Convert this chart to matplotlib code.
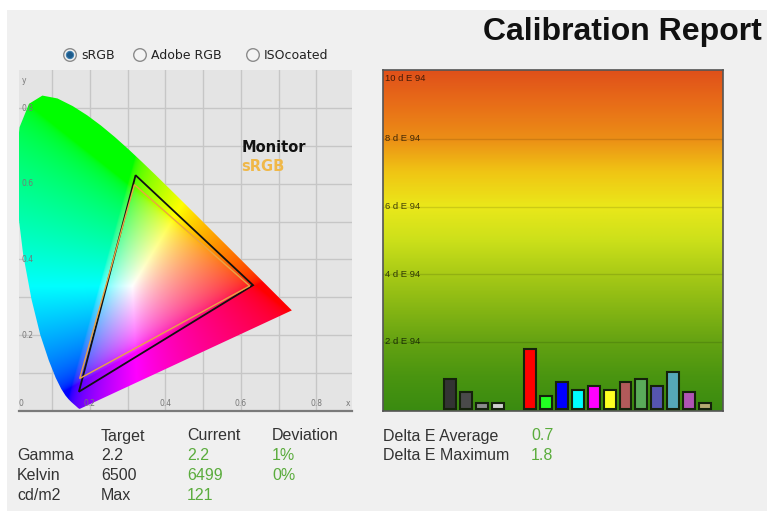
import numpy as np
import matplotlib
matplotlib.use("Agg")
import matplotlib.pyplot as plt
from matplotlib.patches import Polygon, Rectangle, Circle
from matplotlib.colors import LinearSegmentedColormap
import matplotlib.transforms as mtransforms

# ---------------- data ----------------
# CIE 1931 spectral locus (380-700 nm, 5 nm steps)
locus_x = [0.1741, 0.1740, 0.1738, 0.1736, 0.1733, 0.1730, 0.1726, 0.1721, 0.1714, 0.1703,
           0.1689, 0.1669, 0.1644, 0.1611, 0.1566, 0.1510, 0.1440, 0.1355, 0.1241, 0.1096,
           0.0913, 0.0687, 0.0454, 0.0235, 0.0082, 0.0039, 0.0139, 0.0389, 0.0743, 0.1142,
           0.1547, 0.1929, 0.2296, 0.2658, 0.3016, 0.3373, 0.3731, 0.4087, 0.4441, 0.4788,
           0.5125, 0.5448, 0.5752, 0.6029, 0.6270, 0.6482, 0.6658, 0.6801, 0.6915, 0.7006,
           0.7079, 0.7140, 0.7190, 0.7230, 0.7260, 0.7283, 0.7300, 0.7311, 0.7320, 0.7327,
           0.7334, 0.7340, 0.7344, 0.7346, 0.7347]
locus_y = [0.0050, 0.0050, 0.0049, 0.0049, 0.0048, 0.0048, 0.0048, 0.0048, 0.0051, 0.0058,
           0.0069, 0.0086, 0.0109, 0.0138, 0.0177, 0.0227, 0.0297, 0.0399, 0.0578, 0.0868,
           0.1327, 0.2007, 0.2950, 0.4127, 0.5384, 0.6548, 0.7502, 0.8120, 0.8338, 0.8262,
           0.8059, 0.7816, 0.7543, 0.7243, 0.6923, 0.6589, 0.6245, 0.5896, 0.5547, 0.5202,
           0.4866, 0.4544, 0.4242, 0.3965, 0.3725, 0.3514, 0.3340, 0.3197, 0.3083, 0.2993,
           0.2920, 0.2859, 0.2809, 0.2770, 0.2740, 0.2717, 0.2700, 0.2689, 0.2680, 0.2673,
           0.2666, 0.2660, 0.2656, 0.2654, 0.2653]

monitor_x = [0.321, 0.632, 0.171]
monitor_y = [0.623, 0.332, 0.050]
srgb_x = [0.318, 0.623, 0.173]
srgb_y = [0.598, 0.330, 0.085]

cie_xticks = [0.2, 0.4, 0.6, 0.8]
cie_xlabels = ["0.2", "0.4", "0.6", "0.8"]
cie_yticks = [0.2, 0.4, 0.6, 0.8]
cie_ylabels = ["0.2", "0.4", "0.6", "0.8"]

patch_values = [0.90, 0.51, 0.20, 0.20, 0.0, 1.78, 0.38, 0.82, 0.58, 0.70,
                0.58, 0.82, 0.90, 0.70, 1.10, 0.51, 0.20]
patch_colors = ["#333333", "#4a4a4a", "#8c8c8c", "#cfcfcf", "#ffffff", "#ff0000",
                "#22ff22", "#0000ff", "#00ffff", "#ff00ff", "#ffff22", "#b25a5a",
                "#5aaa5a", "#5555b0", "#55a8b8", "#b055b5", "#b5aa72"]
de_ticks = [2, 4, 6, 8, 10]
de_labels = ["2 d E 94", "4 d E 94", "6 d E 94", "8 d E 94", "10 d E 94"]

header = ["Target", "Current", "Deviation"]
row_names = ["Gamma", "Kelvin", "cd/m2"]
target_vals = ["2.2", "6500", "Max"]
current_vals = ["2.2", "6499", "121"]
deviation_vals = ["1%", "0%", ""]
summary_names = ["Delta E Average", "Delta E Maximum"]
summary_vals = ["0.7", "1.8"]
radio_labels = ["sRGB", "Adobe RGB", "ISOcoated"]

W, H = 767, 511
fig = plt.figure(figsize=(W / 100, H / 100), dpi=100)
fig.patch.set_facecolor("#f0f0f0")

# background / overlay axes in pixel coordinates
bg = fig.add_axes([0, 0, 1, 1], zorder=0)
bg.set_xlim(0, W)
bg.set_ylim(H, 0)
bg.axis("off")
bg.add_patch(Rectangle((0, 0), W, 10, fc="white", ec="none"))
bg.add_patch(Rectangle((0, 0), 7, H, fc="white", ec="none"))

def fax(x0, y0, x1, y1):
    return [x0 / W, 1 - y1 / H, (x1 - x0) / W, (y1 - y0) / H]

# ---------------- CIE diagram ----------------
ax = fig.add_axes(fax(19, 70, 352, 411), zorder=1)
ax.set_facecolor("#e4e4e4")
xl = (0.0124, 0.894)
yl = (-0.001, 0.9015)
ax.set_xlim(*xl)
ax.set_ylim(*yl)
ax.set_xticks(np.arange(0.1, 0.9, 0.1))
ax.set_yticks(np.arange(0.1, 0.9, 0.1))
ax.tick_params(length=0, labelbottom=False, labelleft=False)
ax.grid(True, color="#c6c6c6", lw=1.0)
ax.set_axisbelow(True)
for s in ["top", "left", "right"]:
    ax.spines[s].set_visible(False)
ax.spines["bottom"].set_color("#7a7a7a")
ax.spines["bottom"].set_linewidth(1.6)

nx = ny = 500
gx = np.linspace(0, 0.9, nx)
gy = np.linspace(0.001, 0.9, ny)
GX, GY = np.meshgrid(gx, gy)
XYZ = np.stack([GX / GY, np.ones_like(GX), (1 - GX - GY) / GY], -1)
M = np.array([[3.2406, -1.5372, -0.4986],
              [-0.9689, 1.8758, 0.0415],
              [0.0557, -0.2040, 1.0570]])
rgb = XYZ @ M.T
rgb = np.clip(rgb, 0, None)
rgb /= np.maximum(rgb.max(-1, keepdims=True), 1e-9)
rgb = np.clip(rgb, 0, 1)
rgb = np.where(rgb <= 0.0031308, 12.92 * rgb, 1.055 * rgb ** (1 / 2.4) - 0.055)
im = ax.imshow(rgb, origin="lower", extent=[0, 0.9, 0.001, 0.9],
               interpolation="bilinear", aspect="auto", zorder=1)
horseshoe = Polygon(np.column_stack([locus_x, locus_y]), closed=True,
                    fc="none", ec="none", transform=ax.transData)
ax.add_patch(horseshoe)
im.set_clip_path(horseshoe)

ax.add_patch(Polygon(np.column_stack([monitor_x, monitor_y]), closed=True,
                     fill=False, ec="#111111", lw=1.3, zorder=3))
ax.add_patch(Polygon(np.column_stack([srgb_x, srgb_y]), closed=True,
                     fill=False, ec="#e8a444", lw=1.0, zorder=4))

for t, lab in zip(cie_xticks, cie_xlabels):
    ax.text(t, 0.02, lab, ha="center", va="center", fontsize=5.5, color="#777777", zorder=5)
ax.text(0.018, 0.02, "0", ha="center", va="center", fontsize=5.5, color="#777777", zorder=5)
ax.text(0.883, 0.02, "x", ha="center", va="center", fontsize=5.5, color="#777777", zorder=5)
for t, lab in zip(cie_yticks, cie_ylabels):
    ax.text(0.02, t, lab, ha="left", va="center", fontsize=5.5, color="#777777", zorder=5)
ax.text(0.02, 0.875, "y", ha="left", va="center", fontsize=5.5, color="#777777", zorder=5)

ax.text(0.602, 0.696, "Monitor", ha="left", va="center", fontsize=10.5,
        fontweight="bold", color="#111111", zorder=5)
ax.text(0.602, 0.646, "sRGB", ha="left", va="center", fontsize=10.5,
        fontweight="bold", color="#f0b848", zorder=5)

# ---------------- Delta E bars ----------------
bx = fig.add_axes(fax(383, 70, 723, 411), zorder=1)
n = len(patch_values)
pos = np.arange(n)
bx.set_xlim(-4.2, n - 1 + 1.11)
bx.set_ylim(-0.05, 10.04)
grad_stops = [(0.0, "#3a8b10"), (0.1, "#4a9510"), (0.2, "#64a212"), (0.3, "#86b614"),
              (0.4, "#a8ca16"), (0.5, "#cce01a"), (0.6, "#eae81a"), (0.7, "#f0c614"),
              (0.8, "#ec8e16"), (0.9, "#e86e18"), (1.0, "#e0501a")]
cmap = LinearSegmentedColormap.from_list("de", grad_stops)
grad = np.linspace(0, 1, 256).reshape(-1, 1)
bx.imshow(grad, cmap=cmap, origin="lower", aspect="auto",
          extent=[-4.2, n - 1 + 1.11, -0.05, 10.04], zorder=0)
for t in de_ticks[:-1]:
    bx.axhline(t, color="#000000", alpha=0.12, lw=1.0, zorder=1)
vals = np.array(patch_values)
mask = vals > 0
bx.bar(pos[mask], vals[mask], width=0.75, color=np.array(patch_colors)[mask],
       edgecolor="#15220c", linewidth=1.5, zorder=3)
trans = mtransforms.blended_transform_factory(bx.transAxes, bx.transData)
for t, lab in zip(de_ticks, de_labels):
    bx.text(0.006, t - (0.2 if t == max(de_ticks) else 0), lab, transform=trans,
            ha="left", va="center", fontsize=6.8, color="#000000", alpha=0.7,
            family="Liberation Sans", zorder=4)
bx.set_xticks([])
bx.set_yticks([])
for s in bx.spines.values():
    s.set_color("#555555")
    s.set_linewidth(1.2)

# ---------------- texts ----------------
bg.text(762, 32, "Calibration Report", ha="right", va="center", fontsize=23,
        fontweight="bold", family="Liberation Sans", color="#111111")

radio_x = [70, 140, 253]
for i, (cx, lab) in enumerate(zip(radio_x, radio_labels)):
    bg.add_patch(Circle((cx, 55), 6.3, fc="#f4f4f4", ec="#8c8c8c", lw=1.0))
    if i == 0:
        bg.add_patch(Circle((cx, 55), 3.6, fc="#1e5a8a", ec="#3d7fb0", lw=0.8))
    bg.text(cx + 11, 55.5, lab, ha="left", va="center", fontsize=9, color="#222222")

tfont = dict(fontsize=11.5, family="Liberation Sans", va="center", ha="left")
col_x = [101, 187, 272]
row_y = [456, 476, 495]
for cxp, h in zip(col_x, header):
    bg.text(cxp, 436, h, color="#333333", **tfont)
green = "#5aac3c"
for ry, name, tv, cv, dv in zip(row_y, row_names, target_vals, current_vals, deviation_vals):
    bg.text(17, ry, name, color="#333333", **tfont)
    bg.text(col_x[0], ry, tv, color="#333333", **tfont)
    bg.text(col_x[1], ry, cv, color=green, **tfont)
    if dv:
        bg.text(col_x[2], ry, dv, color=green, **tfont)
for ry, name, v in zip([436, 456], summary_names, summary_vals):
    bg.text(383, ry, name, color="#333333", **tfont)
    bg.text(531, ry, v, color=green, **tfont)

fig.savefig("out.png", dpi=100, facecolor=fig.get_facecolor())
